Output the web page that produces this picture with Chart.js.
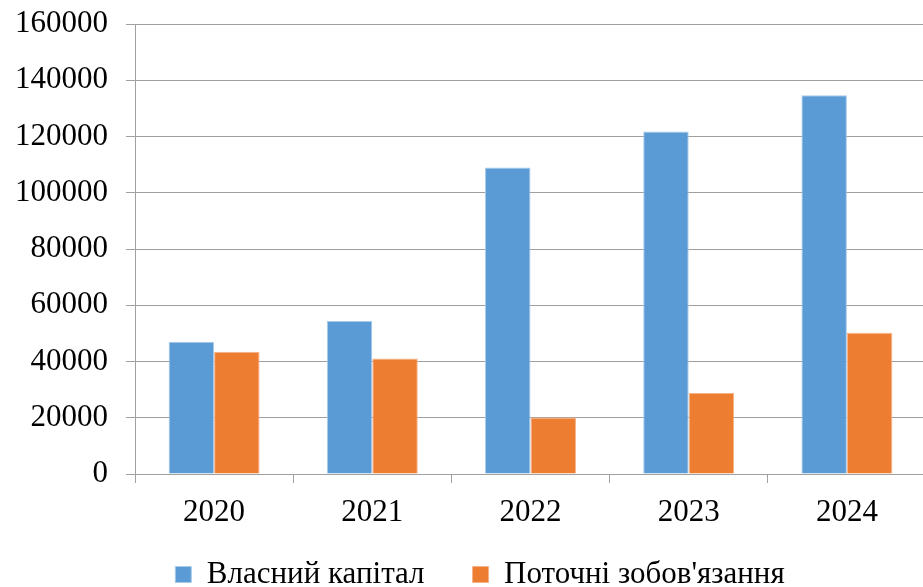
<!DOCTYPE html>
<html>
<head>
<meta charset="utf-8">
<script src="https://cdn.jsdelivr.net/npm/chart.js@4.4.1/dist/chart.umd.min.js"></script>
<style>
  html, body { margin: 0; padding: 0; background: #fff; overflow: hidden; }
</style>
</head>
<body>
<canvas id="myChart" width="930" height="630"></canvas>
<script>
// роки та значення (тис. грн)
const years = ['2020', '2021', '2022', '2023', '2024'];
const equity = [47000, 54400, 109000, 121800, 134700];
const currentLiabilities = [43500, 41100, 20100, 28800, 50200];
const seriesNames = ['Власний капітал', "Поточні зобов'язання"];

const gridColor = '#a0a0a0';
const serif = "'Liberation Serif', 'Times New Roman', 'DejaVu Serif', serif";

// legend sits a bit higher and to the right of where Chart.js puts it
const legendNudge = {
  id: 'legendNudge',
  afterLayout(chart) {
    const lg = chart.legend;
    if (!lg) return;
    const dx = 17, dy = -19;
    lg.left += dx; lg.right += dx;
    lg.top += dy; lg.bottom += dy;
  }
};

const data = {
  labels: years,
  datasets: [{
    label: seriesNames[0],
    data: equity,
    backgroundColor: '#5b9bd5',
    borderColor: '#a9cbea',
    borderWidth: 1,
    borderSkipped: 'bottom'
  },
  {
    label: seriesNames[1],
    data: currentLiabilities,
    backgroundColor: '#ed7d31',
    borderColor: '#f5b38a',
    borderWidth: 1,
    borderSkipped: 'bottom'
  }]
};

const config = {
  type: 'bar',
  data,
  plugins: [legendNudge],
  options: {
    responsive: false,
    animation: false,
    layout: {
      padding: { left: 0, right: 4, top: 24, bottom: 11 }
    },
    datasets: {
      bar: { categoryPercentage: 0.575, barPercentage: 1 }
    },
    scales: {
      x: {
        afterFit: function(scale) { scale.height = 56; },
        grid: {
          drawOnChartArea: false,
          drawTicks: true,
          tickLength: 9,
          color: gridColor,
          offset: true
        },
        border: { color: gridColor, width: 1 },
        ticks: {
          color: '#000',
          padding: 11,
          font: { family: serif, size: 31 }
        }
      },
      y: {
        min: 0,
        max: 160000,
        afterFit: function(scale) {
          scale.width = 135;
          scale.paddingTop = 0;
          scale.paddingBottom = 0;
        },
        grid: {
          color: gridColor,
          tickLength: 9
        },
        border: { color: gridColor, width: 1 },
        ticks: {
          stepSize: 20000,
          color: '#000',
          padding: 18,
          font: { family: serif, size: 31 },
          callback: function(value) { return value; }
        }
      }
    },
    plugins: {
      tooltip: { enabled: false },
      legend: {
        position: 'bottom',
        labels: {
          color: '#000',
          boxWidth: 16,
          boxHeight: 16,
          padding: 48,
          font: { family: serif, size: 31 }
        }
      }
    }
  }
};

const myChart = new Chart(document.getElementById('myChart'), config);
</script>
</body>
</html>
